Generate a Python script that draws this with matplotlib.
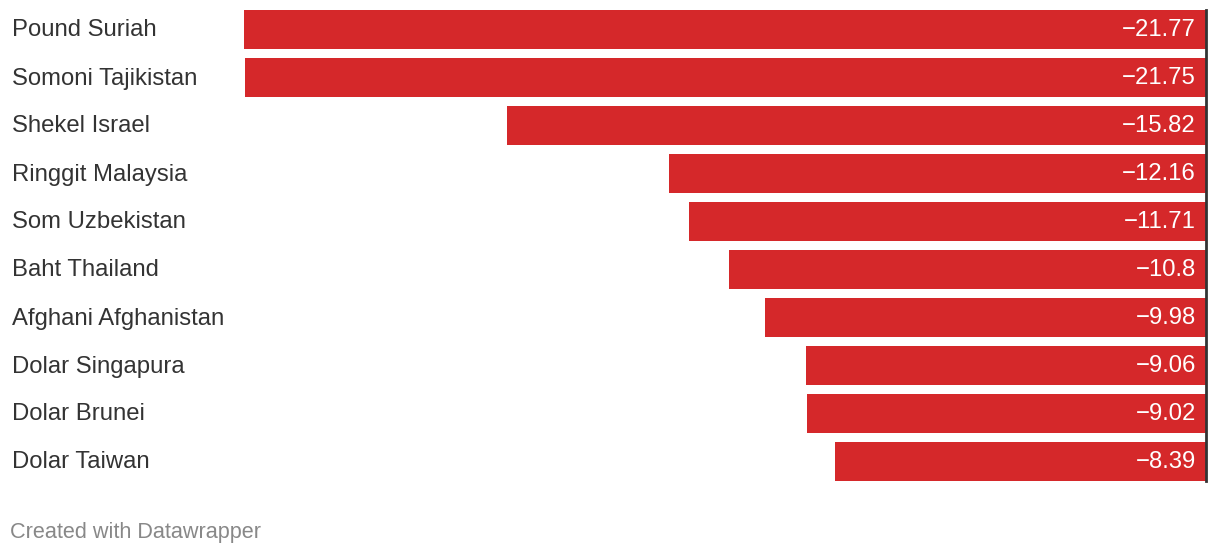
import matplotlib.pyplot as plt
from matplotlib.transforms import offset_copy, blended_transform_factory

plt.rcParams['font.family'] = ['Liberation Sans', 'DejaVu Sans']

currencies = ['Pound Suriah', 'Somoni Tajikistan', 'Shekel Israel', 'Ringgit Malaysia',
              'Som Uzbekistan', 'Baht Thailand', 'Afghani Afghanistan', 'Dolar Singapura',
              'Dolar Brunei', 'Dolar Taiwan']
changes = [-21.77, -21.75, -15.82, -12.16, -11.71, -10.8, -9.98, -9.06, -9.02, -8.39]
labels = ['\u221221.77', '\u221221.75', '\u221215.82', '\u221212.16', '\u221211.71',
          '\u221210.8', '\u22129.98', '\u22129.06', '\u22129.02', '\u22128.39']

W, H = 1220, 554
fig = plt.figure(figsize=(W / 100, H / 100), dpi=100)
ax = fig.add_axes([244 / W, 1 - 485.5 / H, 962 / W, 480 / H])

pos = range(len(currencies))
ax.barh(pos, changes, height=39 / 48, color='#d5282a', left=0)
ax.set_xlim(-21.77, 0)
ax.set_ylim(len(currencies) - 0.5, -0.5)
ax.axis('off')
ax.axvline(0, color='#333333', lw=2, ymin=4.5 / 480, ymax=475.5 / 480, clip_on=False)

# value labels inside the bar end, category names at the left edge of the figure
val_tr = offset_copy(ax.transData, fig=fig, x=-10, y=1.5, units='dots')
name_tr = offset_copy(blended_transform_factory(fig.transFigure, ax.transData),
                      fig=fig, x=0, y=1.5, units='dots')
for i, (name, lab) in enumerate(zip(currencies, labels)):
    ax.text(0, i, lab, transform=val_tr, ha='right', va='center_baseline',
            color='white', fontsize=17.2)
    ax.text(12 / W, i, name, transform=name_tr, ha='left', va='center_baseline',
            color='#333333', fontsize=17.2)

fig.text(10 / W, 1 - 530 / H, 'Created with Datawrapper', ha='left', va='center_baseline',
         color='#888888', fontsize=15.6)

fig.savefig('out.png', dpi=100)
